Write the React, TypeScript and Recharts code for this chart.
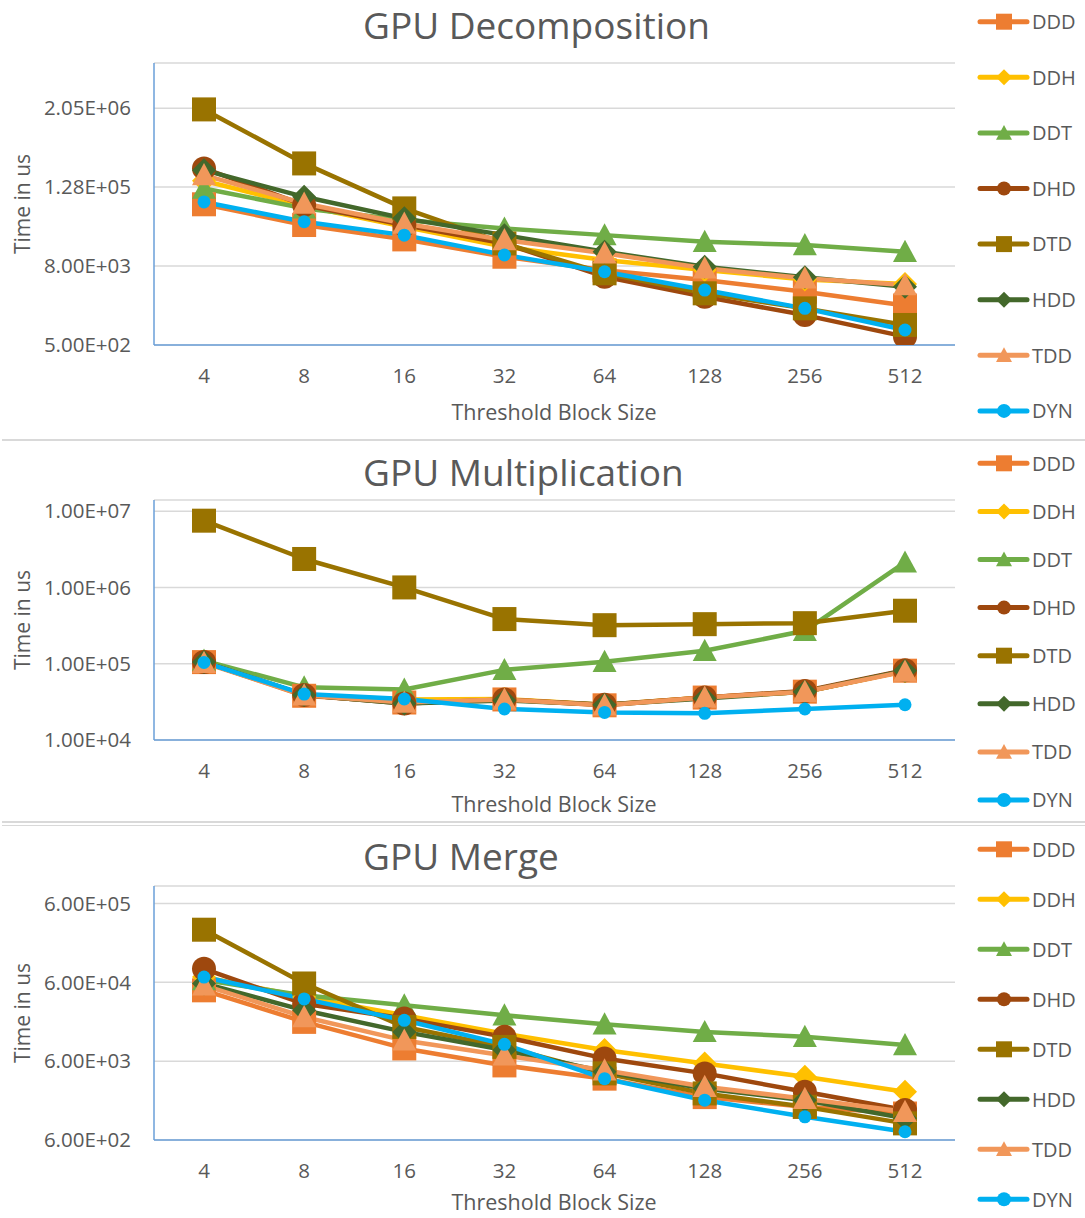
import React from 'react';
import { LineChart, Line, XAxis, YAxis, CartesianGrid, Legend } from 'recharts';

const SIZES = ['4', '8', '16', '32', '64', '128', '256', '512'];
const SERIES = ['DDD', 'DDH', 'DDT', 'DHD', 'DTD', 'HDD', 'TDD', 'DYN'];

// GPU Decomposition (time in us)
const decDDD = [70000, 33800, 20400, 11100, 6900, 4900, 3250, 2000];
const decDDH = [160000, 65600, 31700, 15700, 9900, 6950, 5000, 4250];
const decDDT = [122000, 60600, 40200, 30000, 23700, 18800, 16700, 13200];
const decDHD = [247000, 68000, 33700, 17700, 5500, 2720, 1430, 670];
const decDTD = [1960000, 294000, 60600, 17700, 6200, 3070, 1810, 1010];
const decHDD = [232000, 91000, 42700, 23700, 13200, 7800, 5400, 3870];
const decTDD = [195000, 72000, 35700, 19900, 12500, 7400, 5200, 4100];
const decDYN = [76000, 37900, 23700, 11800, 6550, 3440, 1810, 847];

// GPU Multiplication
const mulDDD = [105000, 38000, 31000, 34000, 28500, 36000, 43000, 81000];
const mulDDH = [105000, 39000, 34000, 34500, 29000, 36000, 43000, 80000];
const mulDDT = [110000, 49000, 46000, 83000, 106000, 148000, 270000, 2130000];
const mulDHD = [105000, 39000, 30000, 34000, 29000, 36000, 44000, 82000];
const mulDTD = [7500000, 2360000, 1000000, 385000, 320000, 330000, 340000, 495000];
const mulHDD = [105000, 39000, 30000, 33000, 29000, 35000, 43000, 81000];
const mulTDD = [103000, 38500, 31000, 34000, 28500, 36000, 43000, 79000];
const mulDYN = [104000, 40000, 34500, 25500, 23000, 22400, 25500, 29000];

// GPU Merge
const merDDD = [47500, 18900, 8700, 5300, 3600, 2100, 1580, 1300];
const merDDH = [70000, 39000, 22900, 13400, 8300, 5600, 3800, 2450];
const merDDT = [64000, 41000, 30700, 22900, 17600, 14100, 12200, 9600];
const merDHD = [89000, 32000, 20800, 12200, 6500, 4200, 2450, 1440];
const merDTD = [279000, 58000, 16300, 9100, 4200, 2340, 1580, 975];
const merHDD = [58000, 26500, 14100, 8300, 4400, 2700, 1920, 1130];
const merTDD = [55000, 21800, 11000, 7100, 4600, 2840, 2000, 1370];
const merDYN = [70000, 37000, 19800, 9800, 3600, 1920, 1180, 763];

const decTicks = [500, 8000, 128000, 2048000];
const mulTicks = [10000, 100000, 1000000, 10000000];
const merTicks = [600, 6000, 60000, 600000];

const COLORS = ['#ED7D31', '#FFC000', '#70AD47', '#9E480E', '#997300', '#43682B', '#F1975A', '#00B0F0'];
const SHAPES = ['square', 'diamond', 'triangle', 'circle', 'square', 'diamond', 'triangle', 'circle'];
const DOT_R = [12, 12, 12, 12, 12, 12, 12, 6.5];
const TEXT = '#595959';
const BORDER = '#6A9FD8';
const FONT = '"Open Sans", sans-serif';

const buildRows = (cols: number[][]) =>
  SIZES.map((size, i) => {
    const row: Record<string, string | number> = { size };
    SERIES.forEach((s, k) => {
      row[s] = cols[k][i];
    });
    return row;
  });

const sci = (v: number) => {
  const [m, e] = v.toExponential(2).split('e');
  const n = Number(e);
  return `${m}E${n < 0 ? '-' : '+'}${String(Math.abs(n)).padStart(2, '0')}`;
};

function Marker({ cx, cy, shape, color, r }: { cx: number; cy: number; shape: string; color: string; r: number }) {
  if (cx == null || cy == null) return null;
  if (shape === 'square') return <rect x={cx - r} y={cy - r} width={2 * r} height={2 * r} fill={color} />;
  if (shape === 'diamond')
    return <polygon points={`${cx},${cy - r} ${cx + r},${cy} ${cx},${cy + r} ${cx - r},${cy}`} fill={color} />;
  if (shape === 'triangle')
    return <polygon points={`${cx},${cy - r} ${cx + r},${cy + r * 0.85} ${cx - r},${cy + r * 0.85}`} fill={color} />;
  return <circle cx={cx} cy={cy} r={r} fill={color} />;
}

function makeLegend(first: number, gap: number) {
  return function LegendBox(props: any) {
    const payload = [...(props.payload || [])].sort(
      (a: any, b: any) => SERIES.indexOf(a.value) - SERIES.indexOf(b.value)
    );
    return (
      <svg width={110} height={first + gap * 8} style={{ display: 'block', overflow: 'visible' }}>
        {payload.map((entry: any, i: number) => {
          const k = SERIES.indexOf(entry.value);
          const y = first + i * gap;
          return (
            <g key={`leg-${entry.value}`}>
              <line x1={9} x2={56} y1={y} y2={y} stroke={COLORS[k]} strokeWidth={5} strokeLinecap="round" />
              <Marker cx={33} cy={y} shape={SHAPES[k]} color={COLORS[k]} r={k === 3 || k === 7 ? 7 : 8} />
              <text x={61} y={y} dy="0.36em" fontSize={20} fill={TEXT} fontFamily={FONT}>
                {entry.value}
              </text>
            </g>
          );
        })}
      </svg>
    );
  };
}

type PanelProps = {
  title: string;
  top: number;
  height: number;
  plotTop: number;
  plotBottom: number;
  titleTop: number;
  xTitleGap: number;
  domain: [number, number];
  ticks: number[];
  cols: number[][];
  legendFirst: number;
  legendGap: number;
};

function Panel({
  title, top, height, plotTop, plotBottom, titleTop, xTitleGap, domain, ticks, cols, legendFirst, legendGap,
}: PanelProps) {
  const rows = buildRows(cols);
  const tick = { fontSize: 20.5, fill: TEXT, fontFamily: FONT };
  return (
    <div style={{ position: 'absolute', left: 0, top, width: 1085, height }}>
      <LineChart width={1085} height={height} data={rows} margin={{ top: plotTop, right: 130, bottom: 0, left: 0 }}>
        <CartesianGrid horizontal vertical={false} stroke="#D9D9D9" strokeWidth={1.5} />
        <XAxis
          dataKey="size"
          height={height - plotBottom}
          padding={{ left: 50, right: 50 }}
          tickSize={0}
          tickMargin={23}
          tickLine={false}
          axisLine={{ stroke: BORDER, strokeWidth: 1.5 }}
          tick={tick}
        />
        <XAxis
          xAxisId="top"
          orientation="top"
          dataKey="size"
          height={0}
          tick={false}
          tickLine={false}
          axisLine={{ stroke: BORDER, strokeWidth: 1.5 }}
        />
        <YAxis
          width={154}
          type="number"
          scale="log"
          domain={domain}
          ticks={ticks}
          allowDataOverflow
          tickFormatter={sci}
          tickSize={0}
          tickMargin={23}
          tickLine={false}
          axisLine={{ stroke: BORDER, strokeWidth: 1.5 }}
          tick={tick}
        />
        <YAxis
          yAxisId="right"
          orientation="right"
          type="number"
          domain={[0, 1]}
          width={0}
          tick={false}
          tickLine={false}
          axisLine={{ stroke: BORDER, strokeWidth: 1.5 }}
        />
        <Legend
          layout="vertical"
          align="center"
          verticalAlign="middle"
          wrapperStyle={{ left: 971, top: 0, width: 114 }}
          content={makeLegend(legendFirst, legendGap)}
        />
        {SERIES.map((s, k) => (
          <Line
            key={s}
            dataKey={s}
            name={s}
            type="linear"
            stroke={COLORS[k]}
            strokeWidth={4.5}
            strokeLinejoin="round"
            isAnimationActive={false}
            activeDot={false}
            dot={(p: any) => (
              <Marker key={`${s}-${p.index}`} cx={p.cx} cy={p.cy} shape={SHAPES[k]} color={COLORS[k]} r={DOT_R[k]} />
            )}
          />
        ))}
      </LineChart>
      <div
        style={{
          position: 'absolute',
          left: 363,
          top: titleTop,
          fontSize: 37,
          lineHeight: 1,
          color: TEXT,
          fontFamily: FONT,
          whiteSpace: 'nowrap',
        }}
      >
        {title}
      </div>
      <div
        style={{
          position: 'absolute',
          left: 22,
          top: (plotTop + plotBottom) / 2,
          transform: 'translate(-50%, -50%) rotate(-90deg)',
          fontSize: 21,
          lineHeight: 1,
          color: TEXT,
          fontFamily: FONT,
          whiteSpace: 'nowrap',
        }}
      >
        Time in us
      </div>
      <div
        style={{
          position: 'absolute',
          left: 554,
          top: plotBottom + xTitleGap,
          transform: 'translate(-50%, -50%)',
          fontSize: 21.5,
          lineHeight: 1,
          color: TEXT,
          fontFamily: FONT,
          whiteSpace: 'nowrap',
        }}
      >
        Threshold Block Size
      </div>
    </div>
  );
}

export default function App() {
  return (
    <div style={{ position: 'absolute', left: 0, top: 0, width: 1085, height: 1218, background: '#fff', overflow: 'hidden' }}>
      <Panel
        title="GPU Decomposition"
        top={0}
        height={439}
        plotTop={63}
        plotBottom={345}
        titleTop={6}
        xTitleGap={67}
        domain={[500, 10000000]}
        ticks={decTicks}
        cols={[decDDD, decDDH, decDDT, decDHD, decDTD, decHDD, decTDD, decDYN]}
        legendFirst={21.7}
        legendGap={55.6}
      />
      <Panel
        title="GPU Multiplication"
        top={441}
        height={379}
        plotTop={59}
        plotBottom={299}
        titleTop={12}
        xTitleGap={64}
        domain={[10000, 14000000]}
        ticks={mulTicks}
        cols={[mulDDD, mulDDH, mulDDT, mulDHD, mulDTD, mulHDD, mulTDD, mulDYN]}
        legendFirst={22.3}
        legendGap={48.1}
      />
      <Panel
        title="GPU Merge"
        top={826}
        height={392}
        plotTop={60}
        plotBottom={314}
        titleTop={11}
        xTitleGap={62}
        domain={[600, 1000000]}
        ticks={merTicks}
        cols={[merDDD, merDDH, merDDT, merDHD, merDTD, merHDD, merTDD, merDYN]}
        legendFirst={23.3}
        legendGap={50}
      />
      <div style={{ position: 'absolute', left: 2, top: 439, width: 1083, height: 2, background: '#D9D9D9' }} />
      <div style={{ position: 'absolute', left: 2, top: 821, width: 1083, height: 1.5, background: '#D9D9D9' }} />
      <div style={{ position: 'absolute', left: 2, top: 824.5, width: 1083, height: 1.5, background: '#D9D9D9' }} />
    </div>
  );
}
